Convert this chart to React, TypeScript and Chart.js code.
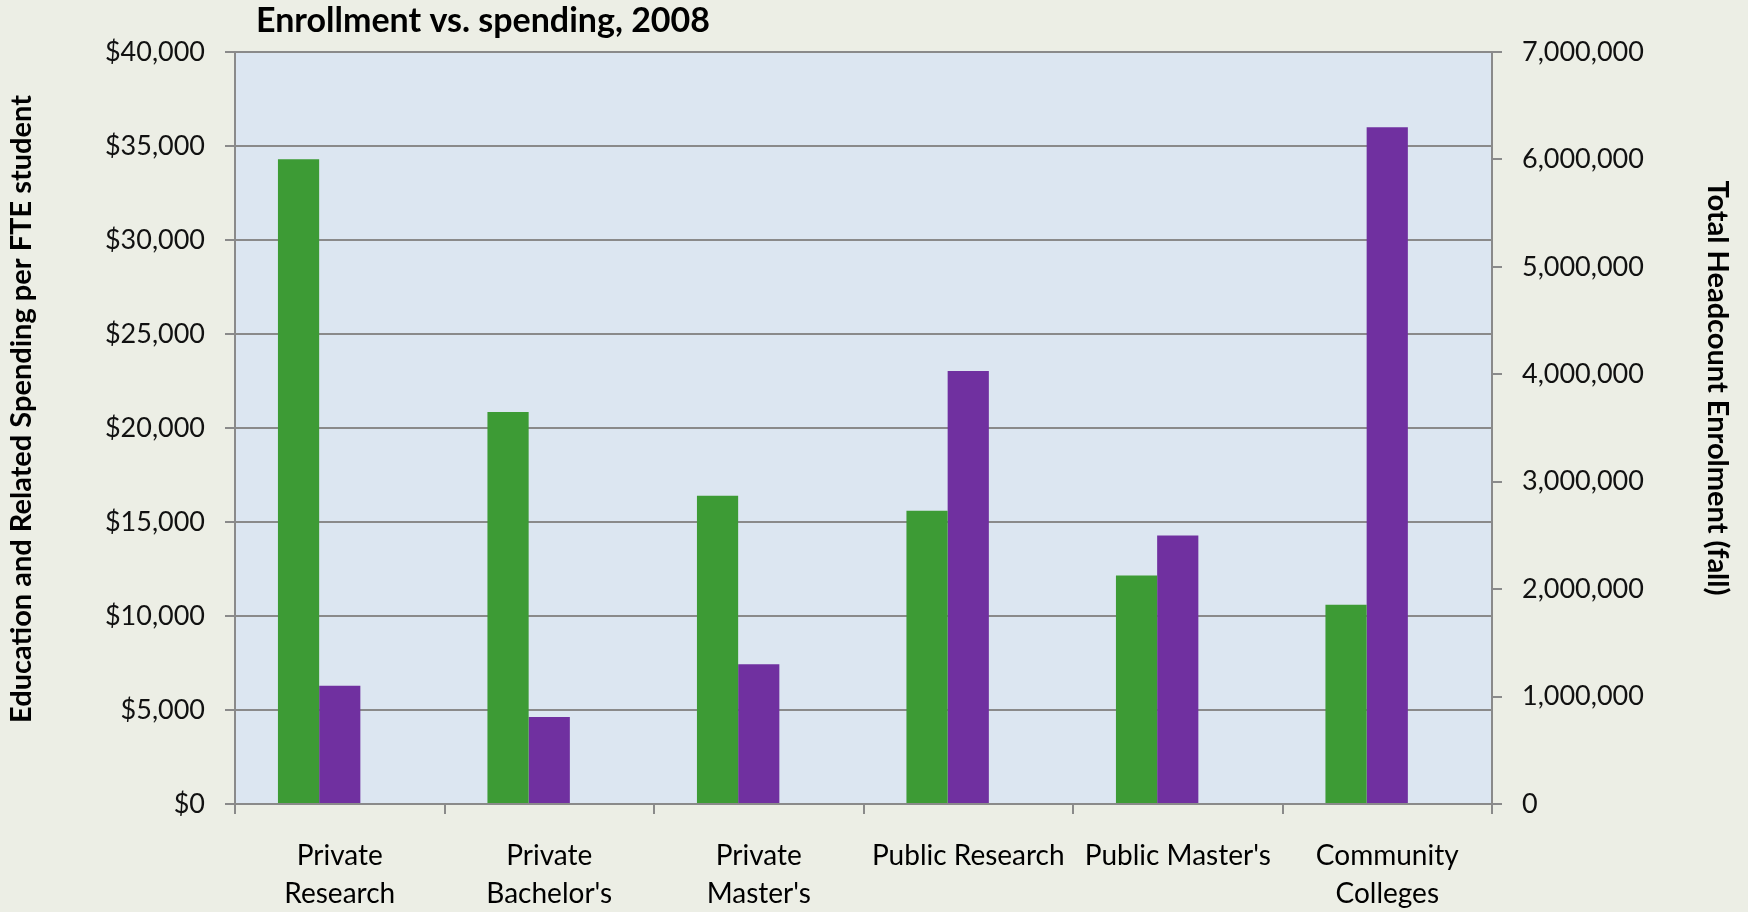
import React, { useEffect, useRef } from "react";
import { Chart, registerables } from "chart.js";

Chart.register(...registerables);

const categories: string[][] = [
  ["Private", "Research"],
  ["Private", "Bachelor's"],
  ["Private", "Master's"],
  ["Public Research"],
  ["Public Master's"],
  ["Community", "Colleges"],
];
const spending: number[] = [34300, 20850, 16400, 15600, 12150, 10600];
const enrollment: number[] = [1100000, 810000, 1300000, 4030000, 2500000, 6300000];
const spendTicks: string[] = ["$0", "$5,000", "$10,000", "$15,000", "$20,000", "$25,000", "$30,000", "$35,000", "$40,000"];
const enrollTicks: string[] = ["0", "1,000,000", "2,000,000", "3,000,000", "4,000,000", "5,000,000", "6,000,000", "7,000,000"];
const titleText = "Enrollment vs. spending, 2008";
const leftTitle = "Education and Related Spending per FTE student";
const rightTitle = "Total Headcount Enrolment (fall)";

const FONT = "Lato, 'Open Sans', sans-serif";
const GRID = "#8a8a8a";

const bgPlugin = {
  id: "bgPlugin",
  beforeDraw(chart: any) {
    const { ctx, chartArea } = chart;
    ctx.save();
    ctx.fillStyle = "#eceee5";
    ctx.fillRect(0, 0, chart.width, chart.height);
    ctx.fillStyle = "#dce6f1";
    ctx.fillRect(chartArea.left, chartArea.top, chartArea.right - chartArea.left, chartArea.bottom - chartArea.top);
    ctx.restore();
  },
  afterDraw(chart: any) {
    const { ctx, chartArea } = chart;
    ctx.save();
    ctx.fillStyle = "#000";
    ctx.textBaseline = "middle";
    ctx.textAlign = "left";
    ctx.font = `bold 34px ${FONT}`;
    ctx.fillText(titleText, chartArea.left + 21, 21);

    ctx.font = `bold 29px ${FONT}`;
    ctx.textAlign = "center";
    ctx.save();
    ctx.translate(22, 409);
    ctx.rotate(-Math.PI / 2);
    ctx.fillText(leftTitle, 0, 0);
    ctx.restore();

    ctx.save();
    ctx.translate(1717, 388);
    ctx.rotate(Math.PI / 2);
    ctx.fillText(rightTitle, 0, 0);
    ctx.restore();
    ctx.restore();
  },
};

export default function App() {
  const ref = useRef<HTMLCanvasElement>(null);
  useEffect(() => {
    document.body.style.margin = "0";
    const chart = new Chart(ref.current!, {
      type: "bar",
      data: {
        labels: categories,
        datasets: [
          {
            label: "Spending",
            data: spending,
            backgroundColor: "#3d9b35",
            yAxisID: "y",
            barPercentage: 1,
            categoryPercentage: 0.59,
          },
          {
            label: "Enrollment",
            data: enrollment,
            backgroundColor: "#7030a0",
            yAxisID: "y1",
            barPercentage: 1,
            categoryPercentage: 0.59,
          },
          {
            label: "",
            data: categories.map(() => null),
            backgroundColor: "rgba(0,0,0,0)",
            yAxisID: "y1",
            barPercentage: 1,
            categoryPercentage: 0.59,
          },
        ],
      },
      options: {
        responsive: false,
        animation: false,
        layout: { padding: { top: 52, left: 0, right: 0, bottom: 0 } },
        plugins: { legend: { display: false }, tooltip: { enabled: false }, title: { display: false } },
        scales: {
          x: {
            afterFit: (s: any) => { s.height = 108; },
            grid: { offset: true, drawOnChartArea: false, drawTicks: true, tickLength: 10, color: GRID, lineWidth: 2 },
            border: { display: true, color: GRID, width: 2 },
            ticks: { color: "#000", font: { family: FONT, size: 28, lineHeight: 1.36 }, padding: 23, maxRotation: 0, autoSkip: false },
          },
          y: {
            position: "left",
            min: 0,
            max: 40000,
            afterFit: (s: any) => { s.width = 235; },
            grid: { color: GRID, lineWidth: 2, tickLength: 10 },
            border: { display: true, color: GRID, width: 2 },
            ticks: {
              stepSize: 5000,
              color: "#111",
              padding: 20,
              font: { family: FONT, size: 27 },
              callback: (_v: any, i: number) => spendTicks[i],
            },
          },
          y1: {
            position: "right",
            min: 0,
            max: 7000000,
            afterFit: (s: any) => { s.width = 256; },
            grid: { drawOnChartArea: false, color: GRID, lineWidth: 2, tickLength: 10 },
            border: { display: true, color: GRID, width: 2 },
            ticks: {
              stepSize: 1000000,
              color: "#111",
              padding: 20,
              font: { family: FONT, size: 27 },
              callback: (_v: any, i: number) => enrollTicks[i],
            },
          },
        },
      },
      plugins: [bgPlugin],
    } as any);
    return () => chart.destroy();
  }, []);
  return (
    <div style={{ width: 1748, height: 912 }}>
      <canvas ref={ref} width={1748} height={912} style={{ display: "block" }} />
    </div>
  );
}
